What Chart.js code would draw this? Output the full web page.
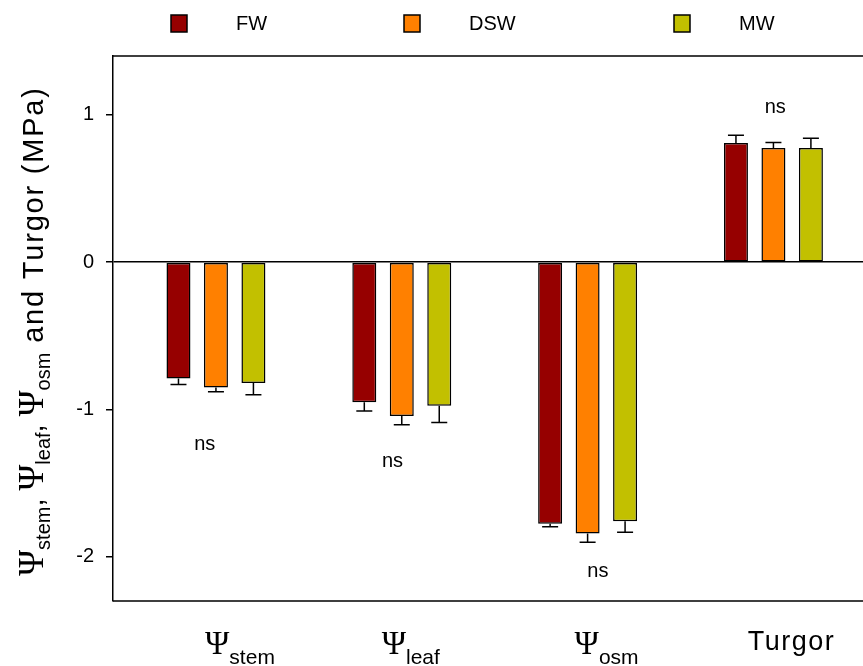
<!DOCTYPE html>
<html>
<head>
<meta charset="utf-8">
<script src="https://cdn.jsdelivr.net/npm/chart.js@4.4.0/dist/chart.umd.min.js"></script>
<style>
  body { margin: 0; background: #fff; }
  #wrap { width: 863px; height: 666px; }
</style>
</head>
<body>
<div id="wrap"><canvas id="chart" width="863" height="666"></canvas></div>
<script>
'use strict'

// categories (symbol_subscript)
const categories = ['Ψ_stem', 'Ψ_leaf', 'Ψ_osm', 'Turgor'];
const seriesNames = ['FW', 'DSW', 'MW'];

// means (MPa)
const fwValues = [-0.79, -0.95, -1.776, 0.81];
const dswValues = [-0.85, -1.044, -1.841, 0.776];
const mwValues = [-0.82, -0.974, -1.758, 0.776];

// standard errors
const fwErr = [0.04, 0.06, 0.02, 0.052];
const dswErr = [0.03, 0.06, 0.06, 0.036];
const mwErr = [0.08, 0.115, 0.075, 0.065];

// "ns" annotation positions (category units, MPa)
const nsText = ['ns', 'ns', 'ns', 'ns'];
const nsX = [-0.06, 0.95, 2.055, 3.01];
const nsY = [-1.24, -1.35, -2.10, 1.05];

const yTicks = [-2, -1, 0, 1];

const colors = ['#960000', '#FF8000', '#C2C000'];
const sans = '"Liberation Sans", Arial, sans-serif';
const serif = '"Liberation Serif", "Times New Roman", serif';

const allValues = [fwValues, dswValues, mwValues];
const allErr = [fwErr, dswErr, mwErr];

function drawParts(ctx, parts, x, y, align) {
    let w = 0;
    parts.forEach(p => {
        ctx.font = p.font;
        ctx.letterSpacing = p.ls || '0px';
        p.w = ctx.measureText(p.text).width;
        w += p.w;
    });
    let cx = align === 'center' ? x - w / 2 : x;
    parts.forEach(p => {
        ctx.font = p.font;
        ctx.letterSpacing = p.ls || '0px';
        ctx.fillText(p.text, cx, y + (p.dy || 0));
        cx += p.w;
    });
    ctx.letterSpacing = '0px';
}

const extras = {
    id: 'extras',
    afterDatasetsDraw(chart) {
        const ctx = chart.ctx;
        const ys = chart.scales.y;
        ctx.save();
        ctx.strokeStyle = '#000';
        ctx.lineWidth = 1.5;
        chart.data.datasets.forEach((ds, di) => {
            const meta = chart.getDatasetMeta(di);
            meta.data.forEach((bar, i) => {
                const v = allValues[di][i];
                const e = allErr[di][i];
                const end = ys.getPixelForValue(v < 0 ? v - e : v + e);
                ctx.beginPath();
                ctx.moveTo(bar.x, bar.y);
                ctx.lineTo(bar.x, end);
                ctx.moveTo(bar.x - 8, end);
                ctx.lineTo(bar.x + 8, end);
                ctx.stroke();
            });
        });
        ctx.restore();
    },
    afterDraw(chart) {
        const ctx = chart.ctx;
        const a = chart.chartArea;
        const xs = chart.scales.x;
        const ys = chart.scales.y;
        ctx.save();
        // frame top / bottom
        ctx.strokeStyle = '#000';
        ctx.lineWidth = 1.5;
        ctx.beginPath();
        ctx.moveTo(a.left, a.top);
        ctx.lineTo(a.right, a.top);
        ctx.moveTo(a.left, a.bottom);
        ctx.lineTo(a.right, a.bottom);
        ctx.stroke();

        ctx.fillStyle = '#000';
        // ns labels
        ctx.font = '20px ' + sans;
        ctx.textAlign = 'center';
        ctx.textBaseline = 'middle';
        nsText.forEach((t, i) => {
            ctx.fillText(t, xs.getPixelForValue(nsX[i]), ys.getPixelForValue(nsY[i]));
        });

        // category labels
        ctx.textAlign = 'left';
        ctx.textBaseline = 'alphabetic';
        const labelShift = [24, 9, 19, 18];
        categories.forEach((c, i) => {
            const cx = xs.getPixelForValue(i) + labelShift[i];
            if (c.includes('_')) {
                const [sym, sub] = c.split('_');
                drawParts(ctx, [
                    { text: sym, font: '33px ' + serif },
                    { text: sub, font: '21px ' + sans, dy: 10 }
                ], cx, a.bottom + 53, 'center');
            } else {
                drawParts(ctx, [{ text: c, font: '27px ' + sans, ls: '1.5px' }], cx, a.bottom + 49, 'center');
            }
        });

        // legend
        const legendX = [171, 404, 674];
        seriesNames.forEach((n, i) => {
            ctx.fillStyle = colors[i];
            ctx.fillRect(legendX[i], 15, 16, 17);
            ctx.strokeRect(legendX[i], 15, 16, 17);
            ctx.fillStyle = '#000';
            ctx.font = '20px ' + sans;
            ctx.textBaseline = 'middle';
            ctx.fillText(n, legendX[i] + 65, 24);
        });

        // y axis title
        ctx.textBaseline = 'alphabetic';
        ctx.translate(43, 331);
        ctx.rotate(-Math.PI / 2);
        const main = '29px ' + sans;
        const sub = '20px ' + sans;
        const psi = '35px ' + serif;
        drawParts(ctx, [
            { text: 'Ψ', font: psi },
            { text: 'stem', font: sub, dy: 7 },
            { text: ', ', font: main },
            { text: 'Ψ', font: psi },
            { text: 'leaf', font: sub, dy: 7 },
            { text: ', ', font: main },
            { text: 'Ψ', font: psi },
            { text: 'osm', font: sub, dy: 7 },
            { text: ' and Turgor (MPa)', font: main, ls: '1.8px' }
        ], 0, 0, 'center');
        ctx.restore();
    }
};

const ctx = document.getElementById('chart');
new Chart(ctx, {
    type: 'bar',
    data: {
        datasets: seriesNames.map((n, di) => ({
            label: n,
            data: allValues[di].map((v, i) => ({ x: i, y: v })),
            backgroundColor: colors[di],
            borderColor: '#000',
            borderWidth: 1.5,
            borderSkipped: false,
            categoryPercentage: 0.605,
            barPercentage: 0.64
        }))
    },
    options: {
        responsive: false,
        animation: false,
        devicePixelRatio: 1,
        layout: { padding: { top: 56, bottom: 65, left: 0, right: 0 } },
        plugins: {
            legend: { display: false },
            tooltip: { enabled: false }
        },
        scales: {
            x: {
                type: 'linear',
                display: false,
                offset: false,
                min: -0.554,
                max: 3.482,
                afterBuildTicks: s => { s.ticks = categories.map((c, i) => ({ value: i })); }
            },
            y: {
                min: -2.3,
                max: 1.4,
                afterBuildTicks: s => { s.ticks = yTicks.map(v => ({ value: v })); },
                afterFit: s => { s.width = 113; },
                border: { display: true, color: '#000', width: 1.5 },
                grid: {
                    color: c => (c.tick && c.tick.value === 0 ? '#000' : 'rgba(0,0,0,0)'),
                    lineWidth: 1.5,
                    tickColor: '#000',
                    tickLength: 7
                },
                ticks: {
                    color: '#000',
                    padding: 12,
                    font: { family: sans, size: 20 }
                }
            }
        }
    },
    plugins: [extras]
});
</script>
</body>
</html>
